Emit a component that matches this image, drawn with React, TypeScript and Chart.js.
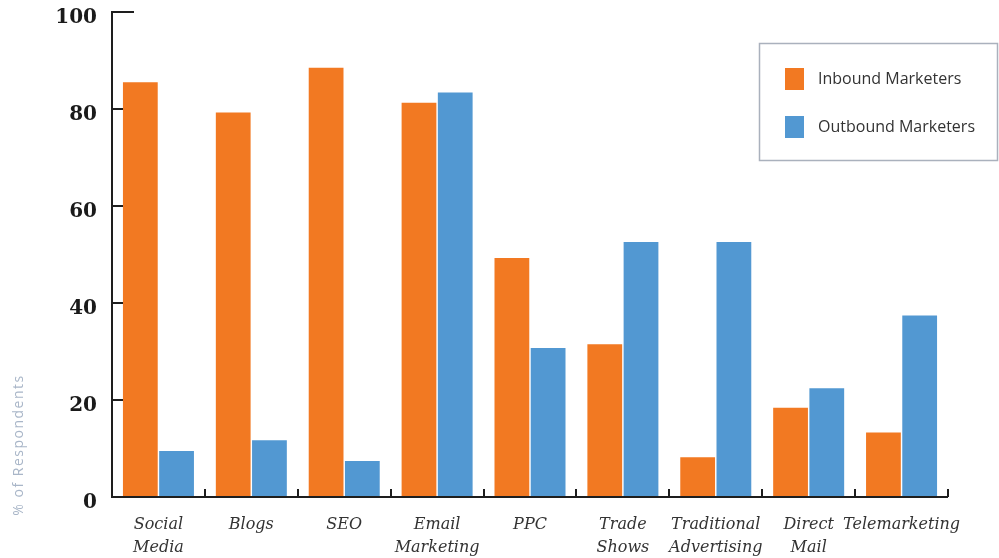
import React, { useEffect, useRef } from "react";
import { Chart, registerables } from "chart.js";

Chart.register(...registerables);

const categories: (string | string[])[] = [
  ["Social", "Media"],
  "Blogs",
  "SEO",
  ["Email", "Marketing"],
  "PPC",
  ["Trade", "Shows"],
  ["Traditional", "Advertising"],
  ["Direct", "Mail"],
  "Telemarketing",
];
const inboundValues = [85.5, 79.3, 88.5, 81.3, 49.3, 31.5, 8.2, 18.4, 13.3];
const outboundValues = [9.5, 11.7, 7.4, 83.4, 30.7, 52.6, 52.6, 22.4, 37.4];
const seriesNames = ["Inbound Marketers", "Outbound Marketers"];
const yTicks = [0, 20, 40, 60, 80, 100];
const yTitle = "% of Respondents";

const ORANGE = "rgb(242,121,34)";
const BLUE = "rgb(82,152,210)";
const AXIS = "#1e1e1e";

const decorPlugin = {
  id: "decor",
  afterDatasetsDraw(chart: any) {
    const { ctx, chartArea, scales } = chart;
    const x = scales.x;
    const y = scales.y;
    ctx.save();
    ctx.strokeStyle = AXIS;
    ctx.lineWidth = 2;
    ctx.beginPath();
    ctx.moveTo(chartArea.left + 22, y.getPixelForValue(100));
    ctx.lineTo(chartArea.left, y.getPixelForValue(100));
    ctx.lineTo(chartArea.left, chartArea.bottom);
    ctx.lineTo(chartArea.right, chartArea.bottom);
    ctx.stroke();
    ctx.beginPath();
    yTicks.forEach((v) => {
      if (v === 0 || v === 100) return;
      const py = Math.round(y.getPixelForValue(v));
      ctx.moveTo(chartArea.left, py);
      ctx.lineTo(chartArea.left + 11, py);
    });
    const n = categories.length;
    for (let i = 1; i <= n; i++) {
      const px = Math.round(x.left + (x.width * i) / n);
      ctx.moveTo(px, chartArea.bottom);
      ctx.lineTo(px, chartArea.bottom - 8);
    }
    ctx.stroke();

    ctx.save();
    ctx.translate(19, 445);
    ctx.rotate(-Math.PI / 2);
    ctx.fillStyle = "#a9b6c8";
    ctx.font = "14px 'Open Sans'";
    try {
      (ctx as any).letterSpacing = "1.5px";
    } catch (e) {}
    ctx.textAlign = "center";
    ctx.textBaseline = "middle";
    ctx.fillText(yTitle, 0, 0);
    ctx.restore();

    ctx.strokeStyle = "#aab1bd";
    ctx.lineWidth = 1.5;
    ctx.strokeRect(759.5, 43.5, 238, 117);
    const colors = [ORANGE, BLUE];
    ctx.font = "16px 'Open Sans'";
    ctx.textBaseline = "middle";
    ctx.textAlign = "left";
    seriesNames.forEach((name, i) => {
      const cy = 79 + i * 48;
      ctx.fillStyle = colors[i];
      ctx.fillRect(785, cy - 11, 19, 22);
      ctx.fillStyle = "#333333";
      ctx.fillText(name, 818, cy);
    });
    ctx.restore();
  },
};

export default function App() {
  const canvasRef = useRef<HTMLCanvasElement | null>(null);

  useEffect(() => {
    if (!canvasRef.current) return;
    const chart = new Chart(canvasRef.current, {
      type: "bar",
      data: {
        labels: categories,
        datasets: [
          {
            label: seriesNames[0],
            data: inboundValues,
            backgroundColor: ORANGE,
            categoryPercentage: 0.78,
            barPercentage: 0.96,
          },
          {
            label: seriesNames[1],
            data: outboundValues,
            backgroundColor: BLUE,
            categoryPercentage: 0.78,
            barPercentage: 0.96,
          },
        ],
      },
      options: {
        animation: false,
        responsive: false,
        layout: { padding: { top: 12, right: 51, left: 0, bottom: 0 } },
        plugins: {
          legend: { display: false },
          tooltip: { enabled: false },
        },
        scales: {
          x: {
            grid: { display: false, drawTicks: false },
            border: { display: false },
            ticks: {
              color: "#333333",
              padding: 17,
              font: { family: "'DejaVu Serif'", style: "italic", size: 16, lineHeight: 1.4 },
              maxRotation: 0,
              autoSkip: false,
            },
            afterFit(scale: any) {
              scale.height = 61;
              scale.paddingLeft = 0;
              scale.paddingRight = 0;
            },
          },
          y: {
            min: 0,
            max: 100,
            grid: { display: false, drawTicks: false },
            border: { display: false },
            afterBuildTicks(scale: any) {
              scale.ticks = yTicks.map((v) => ({ value: v }));
            },
            ticks: {
              color: "#1a1a1a",
              padding: 15,
              labelOffset: 6,
              font: { family: "'DejaVu Serif'", weight: "bold", size: 20 },
            },
            afterFit(scale: any) {
              scale.width = 112;
              scale.paddingTop = 0;
              scale.paddingBottom = 0;
            },
          },
        },
      },
      plugins: [decorPlugin],
    });
    return () => chart.destroy();
  }, []);

  return (
    <div style={{ position: "fixed", left: 0, top: 0, width: 999, height: 558, background: "#fff" }}>
      <canvas ref={canvasRef} width={999} height={558} />
    </div>
  );
}
